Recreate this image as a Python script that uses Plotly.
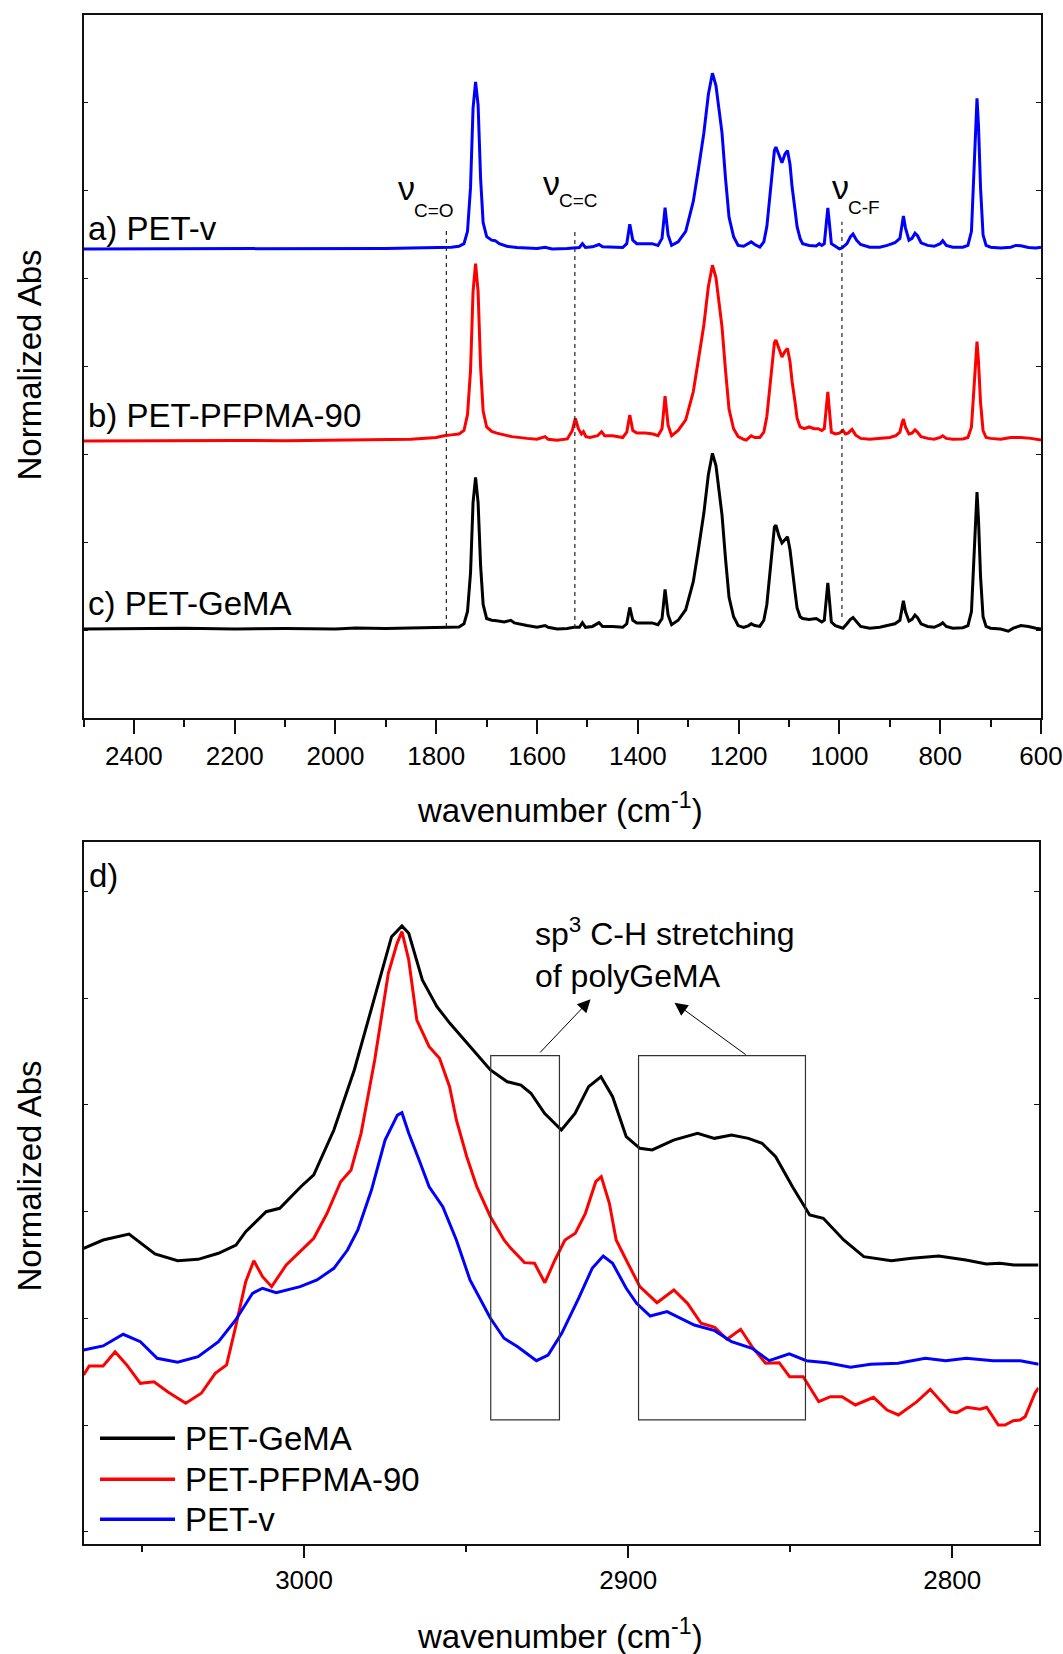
import plotly.graph_objects as go

# ---------------- data: top panel (FTIR 2500-600 cm-1), heights above each baseline ----------------
PETV_WN = [2500, 2400, 2300, 2200, 2100, 2000, 1950, 1900, 1850, 1800, 1770, 1755, 1745, 1738, 1732, 1727, 1722,
           1717, 1712, 1707, 1700, 1690, 1683, 1675, 1660, 1640, 1600, 1584, 1570, 1540, 1527, 1516, 1510, 1504,
           1490, 1477, 1470, 1450, 1430, 1422, 1416, 1410, 1402, 1385, 1372, 1360, 1352, 1346, 1340, 1333, 1320,
           1305, 1290, 1280, 1269, 1260, 1252, 1245, 1238, 1233, 1226, 1219, 1210, 1201, 1190, 1180, 1175, 1168,
           1158, 1150, 1144, 1138, 1134, 1129, 1126, 1120, 1114, 1108, 1103, 1098, 1094, 1088, 1084, 1078, 1073,
           1060, 1046, 1040, 1035, 1030, 1026, 1023, 1020, 1016, 1008, 1000, 995, 985, 978, 973, 966, 958, 940,
           920, 905, 890, 880, 876, 873, 869, 862, 856, 850, 845, 838, 825, 812, 800, 795, 788, 775, 755, 745, 738,
           733, 729, 727, 724, 720, 715, 709, 700, 680, 660, 650, 640, 625, 610, 600]
PETV_ABS = [0.0, 0.0, 0.002, 0.0, 0.002, 0.0, 0.003, 0.003, 0.005, 0.008, 0.01, 0.015, 0.03, 0.10, 0.35, 0.80, 0.95,
            0.82, 0.40, 0.15, 0.07, 0.05, 0.047, 0.03, 0.015, 0.008, 0.003, 0.01, 0.0, 0.003, 0.005, 0.008, 0.03,
            0.008, 0.012, 0.025, 0.012, 0.01, 0.008, 0.03, 0.14, 0.05, 0.03, 0.03, 0.03, 0.02, 0.06, 0.235, 0.08,
            0.02, 0.04, 0.10, 0.27, 0.45, 0.66, 0.88, 1.0, 0.93, 0.78, 0.66, 0.40, 0.18, 0.07, 0.02, 0.015, 0.03,
            0.04, 0.025, 0.01, 0.04, 0.127, 0.30, 0.43, 0.56, 0.58, 0.53, 0.49, 0.54, 0.56, 0.48, 0.355, 0.22,
            0.127, 0.06, 0.03, 0.02, 0.017, 0.03, 0.02, 0.03, 0.15, 0.233, 0.15, 0.03, 0.015, 0.0, 0.005, 0.03,
            0.07, 0.085, 0.05, 0.025, 0.01, 0.01, 0.02, 0.035, 0.06, 0.15, 0.188, 0.12, 0.05, 0.06, 0.089, 0.075,
            0.035, 0.02, 0.015, 0.03, 0.047, 0.02, 0.01, 0.01, 0.02, 0.10, 0.45, 0.80, 0.857, 0.70, 0.35, 0.08,
            0.02, 0.01, 0.005, 0.01, 0.02, 0.018, 0.008, 0.005, 0.01]

PFPMA_WN = [2500, 2400, 2300, 2200, 2100, 2000, 1900, 1850, 1800, 1785, 1770, 1755, 1745, 1738, 1732, 1727, 1722,
            1717, 1712, 1707, 1700, 1690, 1680, 1665, 1650, 1620, 1600, 1584, 1578, 1560, 1540, 1530, 1524, 1518,
            1512, 1508, 1503, 1495, 1480, 1472, 1466, 1450, 1430, 1422, 1416, 1410, 1402, 1385, 1370, 1360, 1352,
            1346, 1340, 1333, 1320, 1305, 1290, 1280, 1269, 1260, 1252, 1245, 1238, 1233, 1226, 1219, 1210, 1201,
            1190, 1185, 1175, 1168, 1158, 1150, 1144, 1138, 1134, 1129, 1126, 1120, 1114, 1108, 1103, 1098, 1094,
            1088, 1084, 1078, 1070, 1060, 1050, 1042, 1035, 1030, 1026, 1023, 1020, 1016, 1008, 1000, 993, 988,
            983, 975, 968, 958, 940, 920, 900, 888, 880, 876, 873, 869, 862, 856, 850, 845, 838, 825, 812, 800,
            795, 788, 775, 755, 745, 738, 733, 729, 727, 724, 720, 715, 709, 700, 680, 660, 640, 620, 600]
PFPMA_ABS = [0.0, 0.002, 0.0, 0.003, 0.002, 0.005, 0.008, 0.01, 0.02, 0.03, 0.035, 0.04, 0.06, 0.15, 0.40, 0.85,
             1.01, 0.85, 0.42, 0.17, 0.08, 0.055, 0.045, 0.035, 0.025, 0.015, 0.01, 0.025, 0.01, 0.005, 0.012,
             0.06, 0.129, 0.07, 0.04, 0.053, 0.025, 0.02, 0.03, 0.053, 0.03, 0.03, 0.02, 0.05, 0.148, 0.06, 0.045,
             0.045, 0.04, 0.03, 0.07, 0.256, 0.09, 0.03, 0.06, 0.12, 0.28, 0.46, 0.66, 0.88, 1.0, 0.93, 0.78, 0.65,
             0.40, 0.18, 0.07, 0.025, 0.01, 0.005, 0.03, 0.02, 0.02, 0.05, 0.14, 0.32, 0.45, 0.56, 0.575, 0.52,
             0.478, 0.51, 0.527, 0.45, 0.34, 0.22, 0.13, 0.08, 0.07, 0.08, 0.07, 0.07, 0.06, 0.07, 0.20, 0.28, 0.18,
             0.05, 0.04, 0.045, 0.06, 0.04, 0.045, 0.066, 0.035, 0.015, 0.01, 0.015, 0.02, 0.03, 0.05, 0.10, 0.125,
             0.08, 0.04, 0.045, 0.063, 0.05, 0.025, 0.015, 0.01, 0.02, 0.03, 0.015, 0.01, 0.012, 0.02, 0.08, 0.30,
             0.52, 0.565, 0.45, 0.22, 0.06, 0.02, 0.015, 0.01, 0.02, 0.02, 0.015, 0.005]

GEMA_WN = [2500, 2450, 2400, 2300, 2200, 2100, 2000, 1960, 1900, 1850, 1800, 1770, 1755, 1745, 1738, 1732, 1727,
           1722, 1717, 1712, 1707, 1700, 1690, 1680, 1665, 1652, 1645, 1620, 1600, 1584, 1578, 1560, 1540, 1527,
           1516, 1510, 1504, 1490, 1477, 1470, 1450, 1430, 1422, 1416, 1410, 1402, 1385, 1372, 1360, 1352, 1346,
           1340, 1333, 1320, 1305, 1290, 1280, 1269, 1260, 1252, 1245, 1238, 1233, 1226, 1219, 1210, 1201, 1190,
           1180, 1175, 1168, 1158, 1150, 1144, 1138, 1134, 1129, 1126, 1120, 1114, 1108, 1103, 1098, 1094, 1088,
           1084, 1078, 1073, 1060, 1046, 1040, 1035, 1030, 1026, 1023, 1020, 1016, 1008, 1000, 993, 985, 978, 973,
           966, 958, 940, 920, 905, 890, 880, 876, 873, 869, 862, 856, 850, 845, 838, 825, 812, 800, 795, 788, 775,
           755, 745, 738, 733, 729, 727, 724, 720, 715, 709, 700, 680, 665, 655, 640, 625, 610, 600]
GEMA_ABS = [0.0, 0.002, 0.0, 0.005, 0.0, 0.003, 0.0, 0.006, 0.003, 0.005, 0.006, 0.008, 0.012, 0.03, 0.10, 0.32,
            0.72, 0.863, 0.72, 0.36, 0.14, 0.06, 0.05, 0.047, 0.04, 0.05, 0.035, 0.02, 0.01, 0.02, 0.01, 0.0, 0.003,
            0.01, 0.01, 0.036, 0.01, 0.015, 0.036, 0.015, 0.015, 0.01, 0.03, 0.123, 0.05, 0.035, 0.035, 0.035,
            0.025, 0.06, 0.226, 0.08, 0.025, 0.05, 0.11, 0.27, 0.45, 0.66, 0.88, 1.0, 0.93, 0.78, 0.65, 0.40, 0.18,
            0.07, 0.02, 0.01, 0.02, 0.03, 0.02, 0.015, 0.05, 0.14, 0.33, 0.46, 0.58, 0.592, 0.53, 0.49, 0.51, 0.525,
            0.45, 0.34, 0.21, 0.12, 0.07, 0.06, 0.055, 0.06, 0.05, 0.04, 0.05, 0.18, 0.263, 0.17, 0.04, 0.02, 0.01,
            0.005, 0.03, 0.055, 0.066, 0.04, 0.015, 0.005, 0.01, 0.02, 0.03, 0.05, 0.13, 0.161, 0.10, 0.045, 0.055,
            0.08, 0.065, 0.03, 0.015, 0.01, 0.025, 0.036, 0.015, 0.005, 0.008, 0.02, 0.10, 0.42, 0.73, 0.78, 0.62,
            0.30, 0.07, 0.015, 0.005, 0.0, -0.012, 0.005, 0.02, 0.015, 0.005, 0.0]

# vertical offsets of the stacked spectra
OFFSET_PETV = 2.669
OFFSET_PFPMA = 1.576
OFFSET_GEMA = 0.506

# marker bands (dashed lines)
BAND_WN = [1780, 1525, 995]
BAND_SUBS = ["C=O", "C=C", "C-F"]

# ---------------- data: bottom panel (C-H stretching region) ----------------
GEMA_CH_WN = [3068, 3062, 3054, 3049.5, 3046, 3039, 3032.7, 3026.4, 3021, 3018, 3011.7, 3007.5, 3001, 2997, 2990.8,
              2984.5, 2978.2, 2973, 2969.8, 2967.7, 2963.5, 2959, 2955, 2948.8, 2942.5, 2937.3, 2933.1, 2930,
              2925.8, 2920.6, 2916.4, 2912.2, 2908.4, 2904.8, 2900.6, 2896.4, 2892.6, 2886, 2878.6, 2873.4, 2868.1,
              2862.9, 2858.7, 2854.5, 2849.3, 2844, 2839.8, 2833.5, 2827.3, 2818.8, 2812.5, 2804.2, 2795.8, 2789.5,
              2785.3, 2781, 2773.4]
GEMA_CH_ABS = [0.2656, 0.2734, 0.2790, 0.2687, 0.2603, 0.2540, 0.2553, 0.2610, 0.2687, 0.2812, 0.2999, 0.3031,
               0.3233, 0.3343, 0.3764, 0.4326, 0.5012, 0.5574, 0.5674, 0.5606, 0.5169, 0.4919, 0.4763, 0.4544,
               0.4326, 0.4216, 0.4185, 0.4108, 0.3920, 0.3764, 0.3920, 0.4170, 0.4263, 0.4076, 0.3701, 0.3593,
               0.3577, 0.3670, 0.3733, 0.3686, 0.3717, 0.3686, 0.3640, 0.3514, 0.3233, 0.2968, 0.2937, 0.2734,
               0.2578, 0.2540, 0.2563, 0.2584, 0.2547, 0.2509, 0.2516, 0.2500, 0.2500]

PFPMA_CH_WN = [3068, 3066.3, 3062, 3058.3, 3054.7, 3050.5, 3046.3, 3042.1, 3036.5, 3031.7, 3027.4, 3023.9, 3021.1,
               3018, 3015.5, 3012.8, 3010, 3005.5, 3000.2, 2997, 2992.9, 2988.7, 2985.5, 2982.4, 2978.2, 2974,
               2971.3, 2969.8, 2967.7, 2965.2, 2961.4, 2958.2, 2955.1, 2953, 2949.8, 2946.7, 2942.5, 2938.3, 2936.2,
               2932, 2928.9, 2925.7, 2922.6, 2919.5, 2916.3, 2913.2, 2910, 2908.3, 2905.8, 2903.7, 2900.6, 2896.4,
               2891.1, 2885.9, 2881.7, 2877.5, 2873.3, 2869.5, 2865.3, 2861.8, 2857.6, 2853.4, 2850.2, 2846,
               2841.2, 2837.6, 2834, 2829.9, 2824.3, 2820.1, 2816.6, 2810.9, 2806.8, 2800.6, 2798.6, 2795.5,
               2791.4, 2789.4, 2785.8, 2783.7, 2781.2, 2779.1, 2777.5, 2774.5, 2773.4]
PFPMA_CH_ABS = [0.1470, 0.1554, 0.1554, 0.1688, 0.1564, 0.1392, 0.1407, 0.1314, 0.1205, 0.1299, 0.1486, 0.1564,
                0.1922, 0.2344, 0.2540, 0.2390, 0.2297, 0.2500, 0.2656, 0.2750, 0.2984, 0.3280, 0.3390, 0.3733,
                0.4419, 0.5231, 0.5512, 0.5621, 0.5356, 0.4794, 0.4544, 0.4435, 0.4170, 0.3858, 0.3514, 0.3233,
                0.2952, 0.2734, 0.2656, 0.2522, 0.2516, 0.2334, 0.2547, 0.2734, 0.2797, 0.2984, 0.3280, 0.3327,
                0.3078, 0.2734, 0.2547, 0.2297, 0.2147, 0.2266, 0.2141, 0.1954, 0.1917, 0.1804, 0.1898, 0.1735,
                0.1580, 0.1585, 0.1454, 0.1454, 0.1220, 0.1267, 0.1267, 0.1189, 0.1261, 0.1142, 0.1096, 0.1220,
                0.1336, 0.1126, 0.1117, 0.1168, 0.1149, 0.1168, 0.1002, 0.1002, 0.1042, 0.1049, 0.1080, 0.1299,
                0.1350]

PETV_CH_WN = [3068, 3062, 3055.8, 3050.5, 3045.3, 3039, 3032.7, 3026.4, 3021.1, 3015.9, 3012.8, 3008.6, 3001.2,
              2996, 2990.8, 2986.6, 2983.4, 2979.2, 2975, 2971.2, 2969.8, 2967.7, 2964.5, 2961.4, 2957.2, 2953,
              2948.8, 2942.5, 2938.3, 2934.1, 2928.3, 2924.7, 2920.5, 2915.3, 2911.1, 2907.7, 2904.8, 2900.6,
              2897.4, 2893.2, 2888, 2883.8, 2879.6, 2873.3, 2868.1, 2861.8, 2856.5, 2850.3, 2845, 2838.7, 2831.4,
              2825.2, 2816.7, 2808.3, 2802, 2795.7, 2787.4, 2779, 2773.3]
PETV_CH_ABS = [0.1704, 0.1742, 0.1851, 0.1782, 0.1626, 0.1589, 0.1641, 0.1782, 0.1985, 0.2235, 0.2282, 0.2241,
               0.2297, 0.2360, 0.2469, 0.2640, 0.2828, 0.3202, 0.3670, 0.3904, 0.3926, 0.3733, 0.3483, 0.3233,
               0.3046, 0.2734, 0.2360, 0.2001, 0.1814, 0.1735, 0.1604, 0.1657, 0.1860, 0.2188, 0.2469, 0.2584,
               0.2516, 0.2282, 0.2141, 0.2022, 0.2063, 0.2001, 0.1938, 0.1885, 0.1782, 0.1720, 0.1604, 0.1667,
               0.1604, 0.1585, 0.1542, 0.1570, 0.1580, 0.1626, 0.1604, 0.1626, 0.1604, 0.1604, 0.1570]

# highlighted regions (wavenumber span, abs span)
BOX_WN = [(2942.4, 2921.2), (2896.8, 2845.3)]
BOX_ABS = (0.105, 0.446)

# ---------------- figure ----------------
W, H = 1063, 1654
FONT = "Liberation Sans, Arial, Helvetica, sans-serif"
BLUE, RED, BLACK = "#0000ff", "#ff0000", "#000000"
BIG = 33


def px(x):
    return x / W


def py(y):
    return 1 - y / H


fig = go.Figure()

for wn, ab, off, col in [(PETV_WN, PETV_ABS, OFFSET_PETV, BLUE),
                         (PFPMA_WN, PFPMA_ABS, OFFSET_PFPMA, RED),
                         (GEMA_WN, GEMA_ABS, OFFSET_GEMA, BLACK)]:
    fig.add_trace(go.Scatter(x=wn, y=[v + off for v in ab], mode="lines",
                             line=dict(color=col, width=3), showlegend=False,
                             xaxis="x", yaxis="y"))

for wn, ab, col, name in [(GEMA_CH_WN, GEMA_CH_ABS, BLACK, "PET-GeMA"),
                          (PFPMA_CH_WN, PFPMA_CH_ABS, RED, "PET-PFPMA-90"),
                          (PETV_CH_WN, PETV_CH_ABS, BLUE, "PET-v")]:
    fig.add_trace(go.Scatter(x=wn, y=ab, mode="lines", name=name,
                             line=dict(color=col, width=3), showlegend=False,
                             xaxis="x2", yaxis="y2"))

axis_common = dict(showline=True, linecolor="#111", linewidth=1.5, showgrid=False, zeroline=False,
                   automargin=False)

fig.update_layout(
    template="none",
    width=W, height=H, autosize=False, showlegend=False,
    margin=dict(l=0, r=0, t=0, b=0, pad=0),
    paper_bgcolor="white", plot_bgcolor="white",
    font=dict(family=FONT, color="black", size=26),
    xaxis=dict(domain=[px(83.5), px(1041)], range=[2500, 600], anchor="y",
               tick0=0, dtick=200, ticks="outside", ticklen=14, tickwidth=1.5, tickcolor="#111",
               minor=dict(dtick=100, ticks="outside", ticklen=7, tickwidth=1.5, tickcolor="#111"),
               mirror=True, tickfont=dict(size=26, family=FONT), **axis_common),
    yaxis=dict(domain=[py(718), py(15)], range=[0, 4], anchor="x", dtick=0.5,
               ticks="inside", ticklen=5, tickwidth=1, tickcolor="#111", mirror="ticks",
               showticklabels=False, **axis_common),
    xaxis2=dict(domain=[px(83.65), px(1038.5)], range=[3068, 2773.4], anchor="y2",
                tick0=0, dtick=100, ticks="outside", ticklen=13, tickwidth=1.5, tickcolor="#111",
                minor=dict(dtick=50, ticks="outside", ticklen=7, tickwidth=1.5, tickcolor="#111"),
                mirror=True, tickfont=dict(size=26, family=FONT), **axis_common),
    yaxis2=dict(domain=[py(1543.5), py(842)], range=[-0.0108, 0.6461], anchor="x2", tick0=0, dtick=0.1,
                ticks="inside", ticklen=5, tickwidth=1, tickcolor="#111", mirror="ticks",
                showticklabels=False, **axis_common),
)

shapes = []
annotations = []


def text(t, x, y, size=BIG, xanchor="left", yanchor="middle", **kw):
    annotations.append(dict(text=t, xref="paper", yref="paper", x=px(x), y=py(y), xanchor=xanchor,
                            yanchor=yanchor, showarrow=False, font=dict(size=size, family=FONT), **kw))


# dashed band markers in top panel
band_bottoms = [0.518, 0.512, 0.575]
band_tops = [2.777, 2.777, 2.824]
for wn, y0, y1 in zip(BAND_WN, band_bottoms, band_tops):
    shapes.append(dict(type="line", xref="x", yref="y", x0=wn, x1=wn, y0=y0, y1=y1,
                       line=dict(color="#222", width=1.2, dash="4px,4px")))

# nu labels: greek letter + lowered subscript
nu_pos = [(396, 188, 412, 211), (541, 183, 557, 200.5), (830, 187, 846, 207.5)]
for sub, (nx, ny, sx, sy) in zip(BAND_SUBS, nu_pos):
    text("ν", nx, ny, size=34)
    text(sub, sx, sy, size=19)

# spectrum labels
for t, ly in [("a) PET-v", 228.5), ("b) PET-PFPMA-90", 415), ("c) PET-GeMA", 603.5)]:
    text(t, 86, ly)

# boxes in bottom panel
for (xa, xb) in BOX_WN:
    shapes.append(dict(type="rect", xref="x2", yref="y2", x0=xa, x1=xb, y0=BOX_ABS[0], y1=BOX_ABS[1],
                       line=dict(color="#333", width=1.2), fillcolor="rgba(0,0,0,0)"))

# arrows
for (hx, hy, tx, ty) in [(2911.6, 0.4988, 2927.6, 0.4476), (2885.7, 0.4956, 2863.3, 0.446)]:
    annotations.append(dict(text="", x=hx, y=hy, ax=tx, ay=ty, xref="x2", yref="y2",
                            axref="x2", ayref="y2", showarrow=True, arrowhead=2, arrowsize=2.6,
                            arrowwidth=1, arrowcolor="black", standoff=0, startstandoff=0))

text("sp<sup>3</sup> C-H stretching<br>of polyGeMA", 533, 953, size=32, align="left")
text("d)", 87, 875)

# axis titles
for yc in [365, 1176]:
    text("Normalized Abs", 28.5, yc, xanchor="center", textangle=-90)
for yc in [808, 1634]:
    text("wavenumber (cm<sup>-1</sup>)", 560, yc, xanchor="center")

# legend (bottom panel)
for name, col, ly in [("PET-GeMA", BLACK, 1438.3), ("PET-PFPMA-90", RED, 1479.3), ("PET-v", BLUE, 1519.3)]:
    shapes.append(dict(type="line", xref="paper", yref="paper", x0=px(100), x1=px(175), y0=py(ly), y1=py(ly),
                       line=dict(color=col, width=3.5)))
    text(name, 183, ly)

fig.update_layout(shapes=shapes, annotations=annotations)

fig.write_html("out.html")
